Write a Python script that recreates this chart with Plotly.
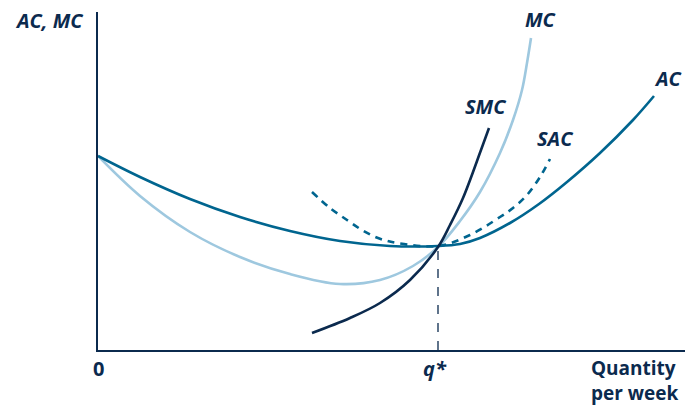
import plotly.graph_objects as go

# Data (x: quantity units, y: cost units; origin at the axes corner)
ac_x = [0, 42, 92, 142, 192, 242, 292, 340, 362, 382, 412, 441, 469, 502, 535, 556]
ac_y = [194, 173, 151, 133, 119, 109, 104, 104, 106, 112, 127, 146, 168, 197, 230, 254]

mc_x = [0, 42, 92, 142, 192, 242, 282, 315, 340, 362, 382, 402, 415, 424, 429, 433]
mc_y = [194, 154, 118, 93, 76, 66, 70, 84, 103, 129, 158, 197, 230, 260, 287, 312]

smc_x = [214, 252, 282, 312, 340, 352, 365, 383, 391]
smc_y = [17, 32, 47, 70, 103, 125, 152, 200, 222]

sac_x = [214, 232, 249, 264, 280, 299, 340, 372, 402, 415, 429, 442, 452]
sac_y = [158, 142, 130, 120, 112, 107, 104, 115, 133, 142, 155, 173, 191]

q_star = 340
q_star_cost = 104

navy = "#0b2a4e"
teal = "#00658f"
light = "#9ec8df"

fig = go.Figure()

fig.add_trace(go.Scatter(x=[q_star, q_star], y=[0, q_star_cost], mode="lines",
                         line=dict(color=navy, width=1.3, dash="dash"), hoverinfo="skip"))
fig.add_trace(go.Scatter(x=mc_x, y=mc_y, mode="lines",
                         line=dict(color=light, width=2.6, shape="spline", smoothing=1.0), name="MC"))
fig.add_trace(go.Scatter(x=ac_x, y=ac_y, mode="lines",
                         line=dict(color=teal, width=2.6, shape="spline", smoothing=1.0), name="AC"))
fig.add_trace(go.Scatter(x=sac_x, y=sac_y, mode="lines",
                         line=dict(color=teal, width=2.6, shape="spline", smoothing=1.0, dash="7px,6px"),
                         name="SAC"))
fig.add_trace(go.Scatter(x=smc_x, y=smc_y, mode="lines",
                         line=dict(color=navy, width=2.6, shape="spline", smoothing=1.0), name="SMC"))


def lab(x, y, text, xanchor="center", xref="x", yref="y", size=20, align="center"):
    return dict(x=x, y=y, xref=xref, yref=yref, text=text, xanchor=xanchor, yanchor="middle",
                showarrow=False, align=align, font=dict(family="Open Sans", size=size, color=navy))


annotations = [
    lab(-0.0826, 0.976, "<b><i>AC, MC</i></b>", xref="paper", yref="paper"),
    lab(443, 331, "<b><i>MC</i></b>"),
    lab(570, 272, "<b><i>AC</i></b>"),
    lab(388, 244, "<b><i>SMC</i></b>"),
    lab(457, 212, "<b><i>SAC</i></b>"),
    lab(0, -0.0562, "<b>0</b>", yref="paper"),
    lab(337, -0.0562, "<b><i>q*</i></b>", yref="paper"),
    lab(491, -0.090, "<b>Quantity<br>per week</b>", xanchor="left", yref="paper", size=19, align="left"),
]

fig.update_layout(
    width=685, height=406,
    margin=dict(l=98, r=0, t=12, b=56),
    plot_bgcolor="white", paper_bgcolor="white",
    showlegend=False,
    annotations=annotations,
    xaxis=dict(range=[0, 587], showgrid=False, zeroline=False, showticklabels=False, ticks="",
               showline=True, linecolor=navy, linewidth=1.5),
    yaxis=dict(range=[0, 338], showgrid=False, zeroline=False, showticklabels=False, ticks="",
               showline=True, linecolor=navy, linewidth=1.5),
)

fig.write_html("out.html", config={"displayModeBar": False},
               post_script="document.body.style.margin='0';")
